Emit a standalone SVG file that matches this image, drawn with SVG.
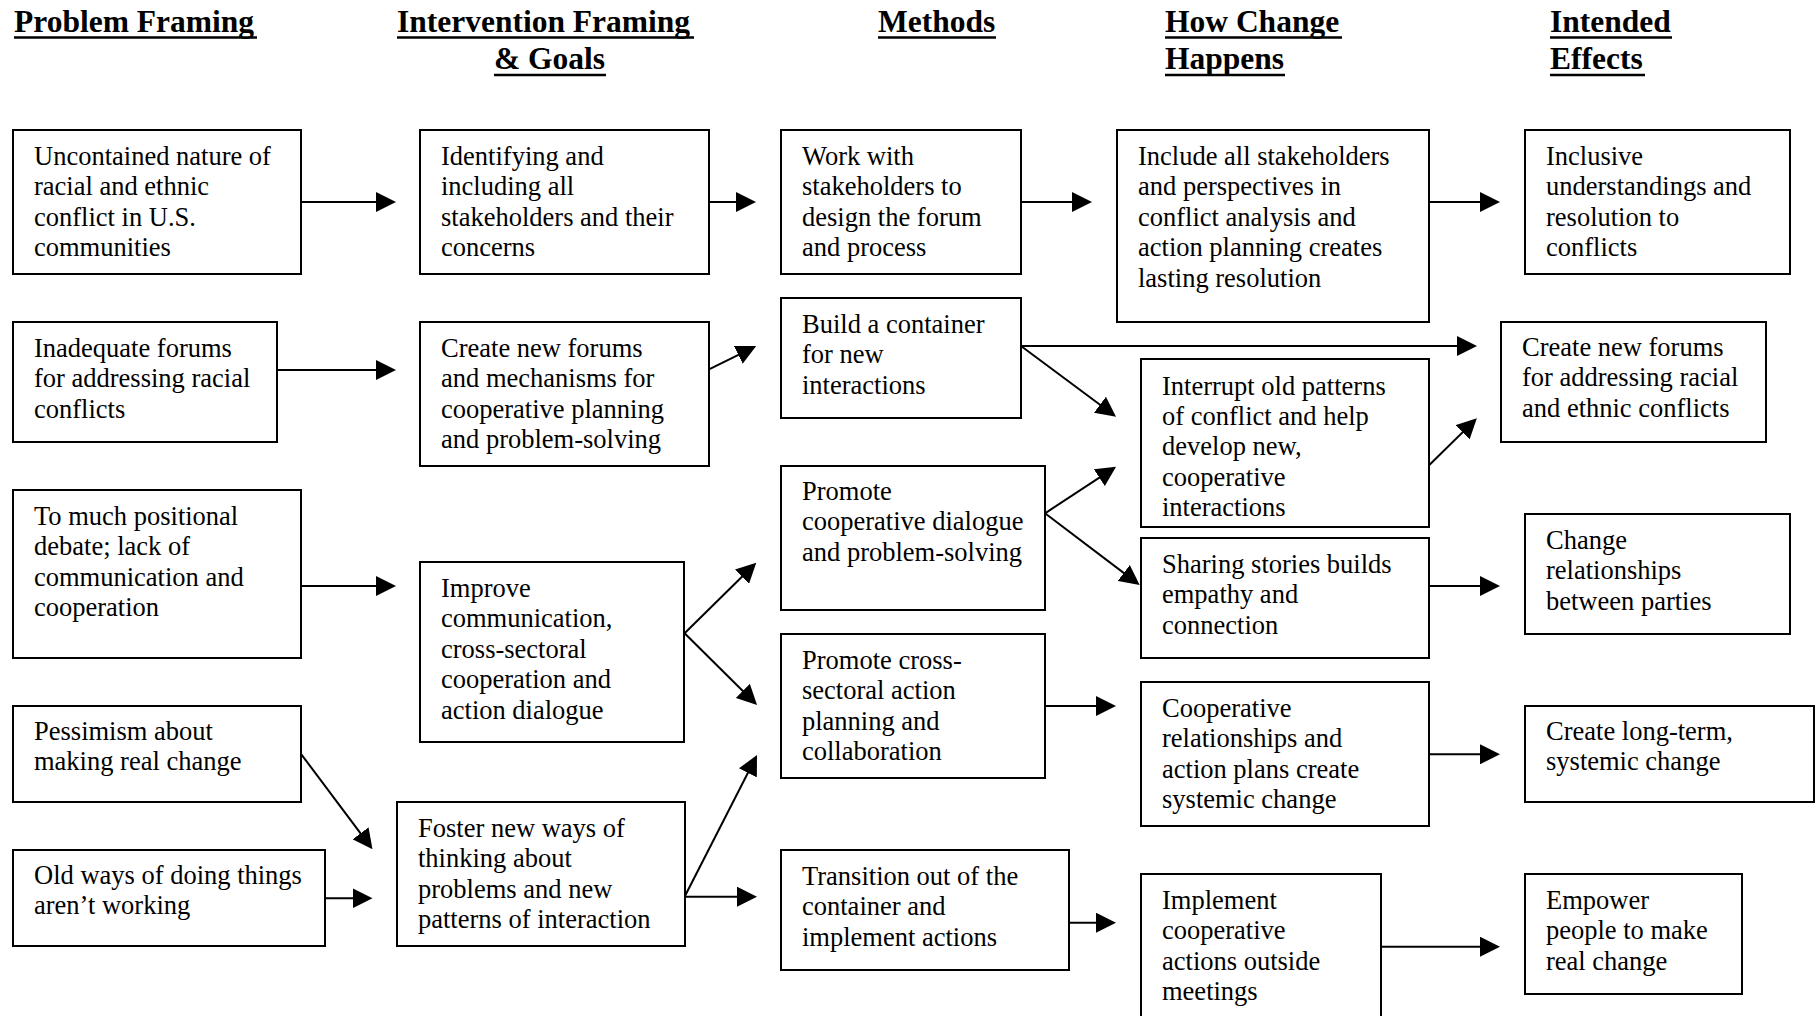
<svg xmlns="http://www.w3.org/2000/svg" width="1819" height="1016" viewBox="0 0 1819 1016">
<style>
.box{fill:#fff;stroke:#000;stroke-width:2}
.t{font-family:"Liberation Serif","Times New Roman",serif;font-size:26.5px;fill:#000}
.h{font-family:"Liberation Serif","Times New Roman",serif;font-size:31.5px;font-weight:bold;fill:#000}
.ul{stroke:#000;stroke-width:2.6}
.c{stroke:#000;stroke-width:2;fill:none;marker-end:url(#ah)}
</style>
<defs>
<marker id="ah" markerUnits="userSpaceOnUse" markerWidth="20" markerHeight="20" refX="16" refY="10" orient="auto">
<path d="M0,0 L20,10 L0,20 Z" fill="#000"/>
</marker>
</defs>
<rect width="1819" height="1016" fill="#fff"/>
<g id="headers">
<text class="h" x="14" y="32">Problem Framing</text>
<line class="ul" x1="14" y1="37.5" x2="257" y2="37.5"/>
<text class="h" x="397" y="32">Intervention Framing</text>
<line class="ul" x1="397" y1="37.5" x2="694" y2="37.5"/>
<text class="h" x="494" y="68.5">&amp; Goals</text>
<line class="ul" x1="494" y1="75" x2="606" y2="75"/>
<text class="h" x="878" y="32">Methods</text>
<line class="ul" x1="878" y1="37.5" x2="996" y2="37.5"/>
<text class="h" x="1165" y="32">How Change</text>
<line class="ul" x1="1165" y1="37.5" x2="1342" y2="37.5"/>
<text class="h" x="1165" y="68.5">Happens</text>
<line class="ul" x1="1165" y1="75" x2="1285" y2="75"/>
<text class="h" x="1550" y="32">Intended</text>
<line class="ul" x1="1550" y1="37.5" x2="1672" y2="37.5"/>
<text class="h" x="1550" y="68.5">Effects</text>
<line class="ul" x1="1550" y1="75" x2="1645" y2="75"/>
</g>
<g id="connectors">
<line class="c" x1="301" y1="202" x2="392" y2="202"/>
<line class="c" x1="709" y1="202" x2="752" y2="202"/>
<line class="c" x1="1021" y1="202" x2="1088" y2="202"/>
<line class="c" x1="1429" y1="202" x2="1496" y2="202"/>
<line class="c" x1="277" y1="370" x2="392" y2="370"/>
<line class="c" x1="709" y1="369.3" x2="752.6" y2="347.8"/>
<line class="c" x1="1021" y1="346" x2="1473" y2="346"/>
<line class="c" x1="1021" y1="346" x2="1112.8" y2="414.3"/>
<line class="c" x1="301" y1="586" x2="392" y2="586"/>
<line class="c" x1="684.6" y1="633.3" x2="753.4" y2="565.5"/>
<line class="c" x1="684.6" y1="633.3" x2="754.2" y2="702.2"/>
<line class="c" x1="1045" y1="513.3" x2="1112.7" y2="468.9"/>
<line class="c" x1="1045" y1="513.3" x2="1136.5" y2="582.6"/>
<line class="c" x1="1429.3" y1="465" x2="1474" y2="421.1"/>
<line class="c" x1="1429" y1="586" x2="1496" y2="586"/>
<line class="c" x1="1045" y1="706" x2="1112" y2="706"/>
<line class="c" x1="1429" y1="754.3" x2="1496" y2="754.3"/>
<line class="c" x1="301.3" y1="754.3" x2="370.1" y2="846.1"/>
<line class="c" x1="325" y1="898.3" x2="368.5" y2="898.3"/>
<line class="c" x1="684.6" y1="896.7" x2="755.2" y2="758.6"/>
<line class="c" x1="684.6" y1="896.7" x2="753" y2="896.7"/>
<line class="c" x1="1069" y1="922.7" x2="1112" y2="922.7"/>
<line class="c" x1="1381" y1="946.7" x2="1496" y2="946.7"/>
</g>
<g id="B1"><rect class="box" x="13" y="130" width="288" height="144"/>
<text class="t" x="34" y="165"><tspan x="34">Uncontained nature of</tspan><tspan x="34" dy="30.4">racial and ethnic</tspan><tspan x="34" dy="30.4">conflict in U.S.</tspan><tspan x="34" dy="30.4">communities</tspan></text></g>
<g id="B2"><rect class="box" x="13" y="322" width="264" height="120"/>
<text class="t" x="34" y="357"><tspan x="34">Inadequate forums</tspan><tspan x="34" dy="30.4">for addressing racial</tspan><tspan x="34" dy="30.4">conflicts</tspan></text></g>
<g id="B3"><rect class="box" x="13" y="490" width="288" height="168"/>
<text class="t" x="34" y="525"><tspan x="34">To much positional</tspan><tspan x="34" dy="30.4">debate; lack of</tspan><tspan x="34" dy="30.4">communication and</tspan><tspan x="34" dy="30.4">cooperation</tspan></text></g>
<g id="B4"><rect class="box" x="13" y="706" width="288" height="96"/>
<text class="t" x="34" y="740"><tspan x="34">Pessimism about</tspan><tspan x="34" dy="30.4">making real change</tspan></text></g>
<g id="B5"><rect class="box" x="13" y="850" width="312" height="96"/>
<text class="t" x="34" y="884"><tspan x="34">Old ways of doing things</tspan><tspan x="34" dy="30.4">aren’t working</tspan></text></g>
<g id="C1"><rect class="box" x="420" y="130" width="289" height="144"/>
<text class="t" x="441" y="165"><tspan x="441">Identifying and</tspan><tspan x="441" dy="30.4">including all</tspan><tspan x="441" dy="30.4">stakeholders and their</tspan><tspan x="441" dy="30.4">concerns</tspan></text></g>
<g id="C2"><rect class="box" x="420" y="322" width="289" height="144"/>
<text class="t" x="441" y="357"><tspan x="441">Create new forums</tspan><tspan x="441" dy="30.4">and mechanisms for</tspan><tspan x="441" dy="30.4">cooperative planning</tspan><tspan x="441" dy="30.4">and problem-solving</tspan></text></g>
<g id="C3"><rect class="box" x="420" y="562" width="264" height="180"/>
<text class="t" x="441" y="597"><tspan x="441">Improve</tspan><tspan x="441" dy="30.4">communication,</tspan><tspan x="441" dy="30.4">cross-sectoral</tspan><tspan x="441" dy="30.4">cooperation and</tspan><tspan x="441" dy="30.4">action dialogue</tspan></text></g>
<g id="C4"><rect class="box" x="397" y="802" width="288" height="144"/>
<text class="t" x="418" y="837"><tspan x="418">Foster new ways of</tspan><tspan x="418" dy="30.4">thinking about</tspan><tspan x="418" dy="30.4">problems and new</tspan><tspan x="418" dy="30.4">patterns of interaction</tspan></text></g>
<g id="M1"><rect class="box" x="781" y="130" width="240" height="144"/>
<text class="t" x="802" y="165"><tspan x="802">Work with</tspan><tspan x="802" dy="30.4">stakeholders to</tspan><tspan x="802" dy="30.4">design the forum</tspan><tspan x="802" dy="30.4">and process</tspan></text></g>
<g id="M2"><rect class="box" x="781" y="298" width="240" height="120"/>
<text class="t" x="802" y="333"><tspan x="802">Build a container</tspan><tspan x="802" dy="30.4">for new</tspan><tspan x="802" dy="30.4">interactions</tspan></text></g>
<g id="M3"><rect class="box" x="781" y="466" width="264" height="144"/>
<text class="t" x="802" y="500"><tspan x="802">Promote</tspan><tspan x="802" dy="30.4">cooperative dialogue</tspan><tspan x="802" dy="30.4">and problem-solving</tspan></text></g>
<g id="M4"><rect class="box" x="781" y="634" width="264" height="144"/>
<text class="t" x="802" y="669"><tspan x="802">Promote cross-</tspan><tspan x="802" dy="30.4">sectoral action</tspan><tspan x="802" dy="30.4">planning and</tspan><tspan x="802" dy="30.4">collaboration</tspan></text></g>
<g id="M5"><rect class="box" x="781" y="850" width="288" height="120"/>
<text class="t" x="802" y="885"><tspan x="802">Transition out of the</tspan><tspan x="802" dy="30.4">container and</tspan><tspan x="802" dy="30.4">implement actions</tspan></text></g>
<g id="H1"><rect class="box" x="1117" y="130" width="312" height="192"/>
<text class="t" x="1138" y="165"><tspan x="1138">Include all stakeholders</tspan><tspan x="1138" dy="30.4">and perspectives in</tspan><tspan x="1138" dy="30.4">conflict analysis and</tspan><tspan x="1138" dy="30.4">action planning creates</tspan><tspan x="1138" dy="30.4">lasting resolution</tspan></text></g>
<g id="H2"><rect class="box" x="1141" y="359" width="288" height="168"/>
<text class="t" x="1162" y="394.5"><tspan x="1162">Interrupt old patterns</tspan><tspan x="1162" dy="30.4">of conflict and help</tspan><tspan x="1162" dy="30.4">develop new,</tspan><tspan x="1162" dy="30.4">cooperative</tspan><tspan x="1162" dy="30.4">interactions</tspan></text></g>
<g id="H3"><rect class="box" x="1141" y="538" width="288" height="120"/>
<text class="t" x="1162" y="573"><tspan x="1162">Sharing stories builds</tspan><tspan x="1162" dy="30.4">empathy and</tspan><tspan x="1162" dy="30.4">connection</tspan></text></g>
<g id="H4"><rect class="box" x="1141" y="682" width="288" height="144"/>
<text class="t" x="1162" y="717"><tspan x="1162">Cooperative</tspan><tspan x="1162" dy="30.4">relationships and</tspan><tspan x="1162" dy="30.4">action plans create</tspan><tspan x="1162" dy="30.4">systemic change</tspan></text></g>
<g id="H5"><rect class="box" x="1141" y="874" width="240" height="160"/>
<text class="t" x="1162" y="909"><tspan x="1162">Implement</tspan><tspan x="1162" dy="30.4">cooperative</tspan><tspan x="1162" dy="30.4">actions outside</tspan><tspan x="1162" dy="30.4">meetings</tspan></text></g>
<g id="E1"><rect class="box" x="1525" y="130" width="265" height="144"/>
<text class="t" x="1546" y="165"><tspan x="1546">Inclusive</tspan><tspan x="1546" dy="30.4">understandings and</tspan><tspan x="1546" dy="30.4">resolution to</tspan><tspan x="1546" dy="30.4">conflicts</tspan></text></g>
<g id="E2"><rect class="box" x="1501" y="322" width="265" height="120"/>
<text class="t" x="1522" y="356"><tspan x="1522">Create new forums</tspan><tspan x="1522" dy="30.4">for addressing racial</tspan><tspan x="1522" dy="30.4">and ethnic conflicts</tspan></text></g>
<g id="E3"><rect class="box" x="1525" y="514" width="265" height="120"/>
<text class="t" x="1546" y="549"><tspan x="1546">Change</tspan><tspan x="1546" dy="30.4">relationships</tspan><tspan x="1546" dy="30.4">between parties</tspan></text></g>
<g id="E4"><rect class="box" x="1525" y="706" width="289" height="96"/>
<text class="t" x="1546" y="740"><tspan x="1546">Create long-term,</tspan><tspan x="1546" dy="30.4">systemic change</tspan></text></g>
<g id="E5"><rect class="box" x="1525" y="874" width="217" height="120"/>
<text class="t" x="1546" y="909"><tspan x="1546">Empower</tspan><tspan x="1546" dy="30.4">people to make</tspan><tspan x="1546" dy="30.4">real change</tspan></text></g>
</svg>
